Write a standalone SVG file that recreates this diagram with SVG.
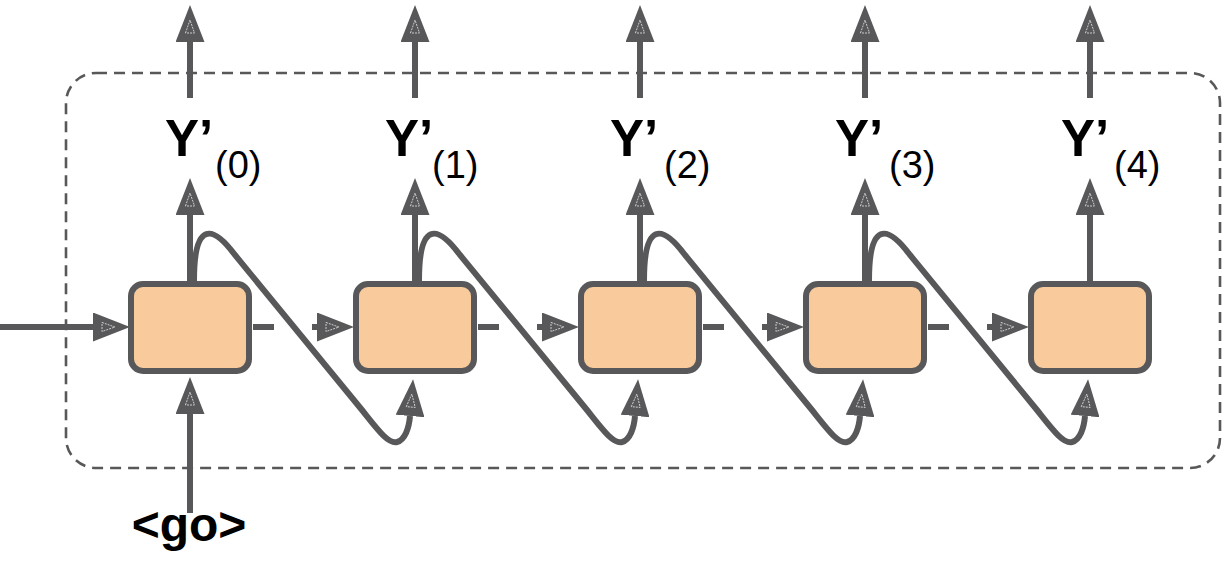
<svg xmlns="http://www.w3.org/2000/svg" width="1223" height="562" viewBox="0 0 1223 562">
<style>
.ln{fill:none;stroke:#58585a;stroke-width:6}
.ar{marker-end:url(#ah)}
.box{fill:#f8ca9c;stroke:#58585a;stroke-width:6}
.frame{fill:none;stroke:#58585a;stroke-width:2.6;stroke-dasharray:11 7}
.y{font-family:"Liberation Sans",Arial,sans-serif;font-weight:bold;font-size:51px;fill:#000}
.sub{font-family:"Liberation Sans",Arial,sans-serif;font-size:38px;fill:#000}
.go{font-family:"Liberation Sans",Arial,sans-serif;font-weight:bold;font-size:48px;fill:#000}
</style>
<defs>
<marker id="ah" markerUnits="userSpaceOnUse" viewBox="0 0 37 29" markerWidth="37" markerHeight="29" refX="0" refY="14.5" orient="auto">
<path d="M0,0 L37,14.5 L0,29 Z" fill="#58585a"/>
<path d="M9,10 L22,14.5 L9,19 Z" fill="none" stroke="#e8e8e8" stroke-width="0.8" stroke-dasharray="2 1"/>
</marker>
</defs>
<rect id="frame" class="frame" x="66" y="73" width="1154" height="395" rx="30"/>
<g id="connectors">
<path class="ln ar" d="M0,327 L93,327"/>
<path class="ln ar" d="M190,513 L190,414"/>
<g id="c0">
<path class="ln ar" d="M190,281 L190,215"/>
<path class="ln ar" d="M190,98 L190,42"/>
<path class="ln" d="M253,327 L274,327"/>
<path class="ln ar" d="M312,327 L317,327"/>
<path class="ln ar" d="M194,281 C194,222 212,224 235,255 L362,410 C378,430 388,444 397,442 C405,440 409,428 410,416"/>
</g>
<use href="#c0" transform="translate(225,0)"/>
<use href="#c0" transform="translate(450,0)"/>
<use href="#c0" transform="translate(675,0)"/>
<path class="ln ar" d="M1090,281 L1090,215"/>
<path class="ln ar" d="M1090,98 L1090,42"/>
</g>
<g id="node0"><rect class="box" x="131" y="284" width="118" height="87" rx="12"/></g>
<g id="node1"><rect class="box" x="356" y="284" width="118" height="87" rx="12"/></g>
<g id="node2"><rect class="box" x="581" y="284" width="118" height="87" rx="12"/></g>
<g id="node3"><rect class="box" x="806" y="284" width="118" height="87" rx="12"/></g>
<g id="node4"><rect class="box" x="1031" y="284" width="118" height="87" rx="12"/></g>
<g id="label0"><text class="y" x="165" y="156">Y’</text><text class="sub" x="215" y="178">(0)</text></g>
<g id="label1"><text class="y" x="385" y="156">Y’</text><text class="sub" x="432" y="178">(1)</text></g>
<g id="label2"><text class="y" x="610" y="156">Y’</text><text class="sub" x="664" y="178">(2)</text></g>
<g id="label3"><text class="y" x="835" y="156">Y’</text><text class="sub" x="889" y="178">(3)</text></g>
<g id="label4"><text class="y" x="1061" y="156">Y’</text><text class="sub" x="1114" y="178">(4)</text></g>
<g id="go"><text class="go" x="189" y="541" text-anchor="middle">&lt;go&gt;</text></g>
</svg>
